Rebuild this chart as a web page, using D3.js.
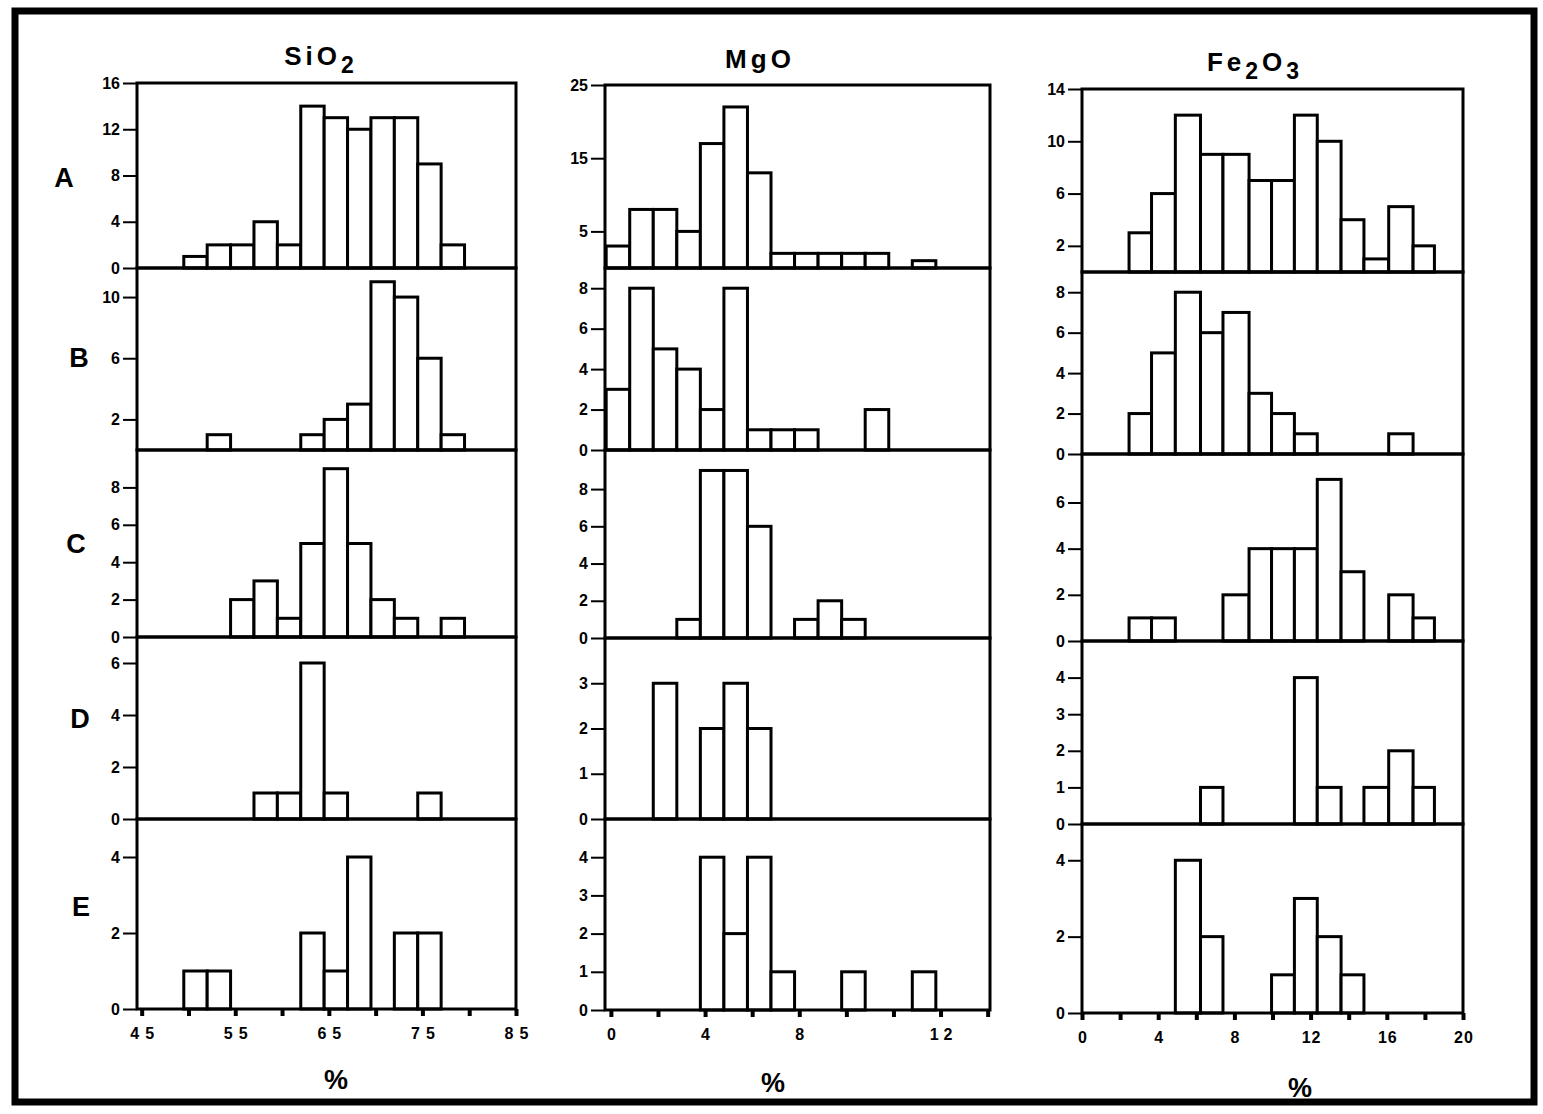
<!DOCTYPE html>
<html>
<head>
<meta charset="utf-8">
<script src="https://cdn.jsdelivr.net/npm/d3@7"></script>
<style>
  body { margin: 0; background: #fff; }
  svg text { font-family: "Liberation Sans", Arial, sans-serif; font-weight: bold; fill: #000; }
</style>
</head>
<body>
<div id="chart"></div>
<script>
const rowNames = ["A", "B", "C", "D", "E"];

// SiO2
const sio2Edges = [49.5, 52, 54.5, 57, 59.5, 62, 64.5, 67, 69.5, 72, 74.5, 77, 79.5, 82];
const sio2Counts = [
  [1, 2, 2, 4, 2, 14, 13, 12, 13, 13, 9, 2, 0],
  [0, 1, 0, 0, 0, 1, 2, 3, 11, 10, 6, 1, 0],
  [0, 0, 2, 3, 1, 5, 9, 5, 2, 1, 0, 1, 0],
  [0, 0, 0, 1, 1, 6, 1, 0, 0, 0, 1, 0, 0],
  [1, 1, 0, 0, 0, 2, 1, 4, 0, 2, 2, 0, 0]
];
const sio2YMax = [16, 11.9, 10, 7, 5];
const sio2YTicks = [[0, 4, 8, 12, 16], [2, 6, 10], [0, 2, 4, 6, 8], [0, 2, 4, 6], [0, 2, 4]];
const sio2XDomain = [44.5, 85];
const sio2XTicks = [45, 50, 55, 60, 65, 70, 75, 80, 85];
const sio2XLabels = [[45, "45"], [55, "55"], [65, "65"], [75, "75"], [85, "85"]];

// MgO
const mgoEdges = [-0.2, 0.8, 1.8, 2.8, 3.8, 4.8, 5.8, 6.8, 7.8, 8.8, 9.8, 10.8, 11.8, 12.8, 13.8];
const mgoCounts = [
  [3, 8, 8, 5, 17, 22, 13, 2, 2, 2, 2, 2, 0, 1],
  [3, 8, 5, 4, 2, 8, 1, 1, 1, 0, 0, 2, 0, 0],
  [0, 0, 0, 1, 9, 9, 6, 0, 1, 2, 1, 0, 0, 0],
  [0, 0, 3, 0, 2, 3, 2, 0, 0, 0, 0, 0, 0, 0],
  [0, 0, 0, 0, 4, 2, 4, 1, 0, 0, 1, 0, 0, 1]
];
const mgoYMax = [25, 9, 10.1, 4, 5];
const mgoYTicks = [[5, 15, 25], [0, 2, 4, 6, 8], [0, 2, 4, 6, 8], [0, 1, 2, 3], [0, 1, 2, 3, 4]];
const mgoXDomain = [-0.25, 16.1];
const mgoXTicks = [0, 2, 4, 6, 8, 10, 12, 14, 16];
// "12" sits on the seventh tick, as printed in the original
const mgoXLabels = [[0, "0"], [4, "4"], [8, "8"], [14, "12"]];

// Fe2O3
const fe2o3Edges = [2.47, 3.65, 4.9, 6.22, 7.4, 8.77, 9.95, 11.15, 12.35, 13.6, 14.8, 16.1, 17.38, 18.5];
const fe2o3Counts = [
  [3, 6, 12, 9, 9, 7, 7, 12, 10, 4, 1, 5, 2],
  [2, 5, 8, 6, 7, 3, 2, 1, 0, 0, 0, 1, 0],
  [1, 1, 0, 0, 2, 4, 4, 4, 7, 3, 0, 2, 1],
  [0, 0, 0, 1, 0, 0, 0, 4, 1, 0, 1, 2, 1],
  [0, 0, 4, 2, 0, 0, 1, 3, 2, 1, 0, 0, 0]
];
const fe2o3YMax = [14, 9, 8.1, 5, 4.95];
const fe2o3YTicks = [[2, 6, 10, 14], [0, 2, 4, 6, 8], [0, 2, 4, 6], [0, 1, 2, 3, 4], [0, 2, 4]];
const fe2o3XDomain = [0, 20];
const fe2o3XTicks = [0, 2, 4, 6, 8, 10, 12, 14, 16, 18, 20];
const fe2o3XLabels = [[0, "0"], [4, "4"], [8, "8"], [12, "12"], [16, "16"], [20, "20"]];

const columns = [
  {
    title: ["SiO", "2", ""], edges: sio2Edges, counts: sio2Counts, yMax: sio2YMax, yTicks: sio2YTicks,
    xDomain: sio2XDomain, xTicks: sio2XTicks, xLabels: sio2XLabels,
    left: 137, right: 516, rows: [83, 268, 450, 637, 819, 1009],
    titlePos: [321, 65], pctPos: [336, 1089], xSpacing: 6
  },
  {
    title: ["MgO", "", ""], edges: mgoEdges, counts: mgoCounts, yMax: mgoYMax, yTicks: mgoYTicks,
    xDomain: mgoXDomain, xTicks: mgoXTicks, xLabels: mgoXLabels,
    left: 605, right: 990, rows: [85, 268, 450, 638, 819, 1010],
    titlePos: [760, 68], pctPos: [773, 1092], xSpacing: 5
  },
  {
    title: ["Fe", "2", "O", "3"], edges: fe2o3Edges, counts: fe2o3Counts, yMax: fe2o3YMax, yTicks: fe2o3YTicks,
    xDomain: fe2o3XDomain, xTicks: fe2o3XTicks, xLabels: fe2o3XLabels,
    left: 1082, right: 1463, rows: [89, 272, 454, 641, 824, 1013],
    titlePos: [1255, 71], pctPos: [1300, 1097], xSpacing: 1
  }
];

const letterPos = [[64, 187], [79, 367], [76, 553], [80, 728], [81, 916]];

const svg = d3
  .select("#chart")
  .append("svg")
  .attr("width", 1543)
  .attr("height", 1114);

// outer frame
svg
  .append("rect")
  .attr("x", 15)
  .attr("y", 11)
  .attr("width", 1519)
  .attr("height", 1091)
  .attr("fill", "none")
  .attr("stroke", "#000")
  .attr("stroke-width", 7);

// row letters
svg
  .selectAll(".row-letter")
  .data(rowNames)
  .enter()
  .append("text")
  .attr("class", "row-letter")
  .attr("x", (d, i) => letterPos[i][0])
  .attr("y", (d, i) => letterPos[i][1])
  .attr("text-anchor", "middle")
  .attr("font-size", "27px")
  .text(d => d);

columns.forEach(col => {
  const g = svg.append("g");
  const x = d3.scaleLinear().domain(col.xDomain).range([col.left, col.right]);

  // title with subscripts
  const title = g
    .append("text")
    .attr("x", col.titlePos[0])
    .attr("y", col.titlePos[1])
    .attr("text-anchor", "middle")
    .attr("font-size", "26px")
    .attr("letter-spacing", "4px");
  col.title.forEach((part, i) => {
    if (!part) return;
    const sub = i % 2 === 1;
    title
      .append("tspan")
      .attr("font-size", sub ? "23px" : "26px")
      .attr("dy", i === 0 ? 0 : sub ? 8 : -8)
      .text(part);
  });

  col.counts.forEach((counts, r) => {
    const top = col.rows[r];
    const bottom = col.rows[r + 1];
    const y = d3.scaleLinear().domain([0, col.yMax[r]]).range([bottom, top]);

    const bins = counts
      .map((c, k) => ({ x0: col.edges[k], x1: col.edges[k + 1], n: c }))
      .filter(d => d.n > 0);

    g.selectAll(null)
      .data(bins)
      .enter()
      .append("rect")
      .attr("x", d => x(d.x0))
      .attr("width", d => x(d.x1) - x(d.x0))
      .attr("y", d => y(d.n))
      .attr("height", d => y(0) - y(d.n))
      .attr("fill", "#fff")
      .attr("stroke", "#000")
      .attr("stroke-width", 3);

    // panel box
    g.append("rect")
      .attr("x", col.left)
      .attr("y", top)
      .attr("width", col.right - col.left)
      .attr("height", bottom - top)
      .attr("fill", "none")
      .attr("stroke", "#000")
      .attr("stroke-width", 3);

    const yAxis = g
      .append("g")
      .attr("transform", `translate(${col.left},0)`)
      .call(
        d3
          .axisLeft(y)
          .tickValues(col.yTicks[r])
          .tickSize(14)
          .tickPadding(3)
          .tickFormat(d3.format("d"))
      );
    yAxis.select(".domain").remove();
    yAxis.selectAll("line").attr("stroke-width", 2);
    yAxis
      .selectAll("text")
      .attr("font-size", "16px")
      .attr("font-family", null)
      .attr("fill", "#000");
  });

  // x axis
  const bottom = col.rows[col.rows.length - 1];
  const labelMap = new Map(col.xLabels);
  const xAxis = g
    .append("g")
    .attr("transform", `translate(0,${bottom})`)
    .call(
      d3
        .axisBottom(x)
        .tickValues(col.xTicks)
        .tickSize(7)
        .tickPadding(12)
        .tickFormat(d => labelMap.get(d) || "")
    );
  xAxis.select(".domain").remove();
  xAxis.selectAll("line").attr("stroke-width", 4);
  xAxis
    .selectAll("text")
    .attr("font-size", "16px")
    .attr("font-family", null)
    .attr("fill", "#000")
    .attr("letter-spacing", `${col.xSpacing}px`)
    .attr("dx", `${col.xSpacing / 2}px`);

  // axis unit
  g.append("text")
    .attr("x", col.pctPos[0])
    .attr("y", col.pctPos[1])
    .attr("text-anchor", "middle")
    .attr("font-size", "27px")
    .text("%");
});
</script>
</body>
</html>
